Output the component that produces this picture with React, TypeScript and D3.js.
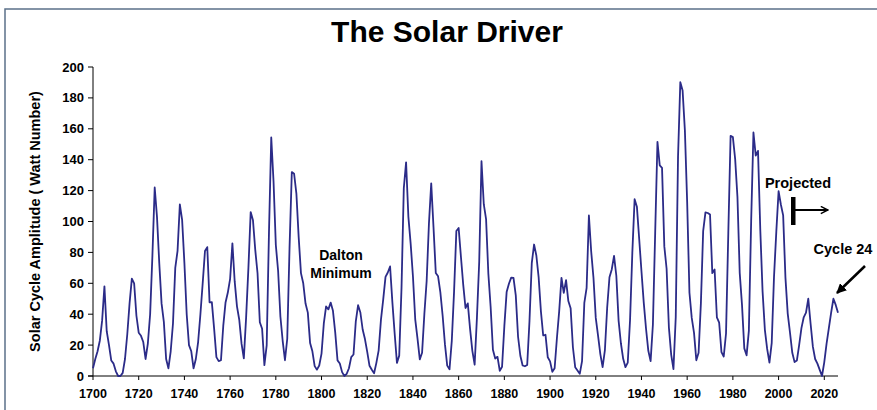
import React from 'react';
import * as d3 from 'd3';

// yearly solar cycle amplitude, starting 1700
const firstYear = 1700;
const amplitude = [
  5, 11, 16, 23, 36, 58, 29, 20, 10, 8,
  3, 0, 0, 2, 11, 27, 47, 63, 60, 39,
  28, 26, 22, 11, 21, 40, 78, 122, 103, 73,
  47, 35, 11, 5, 16, 34, 70, 81, 111, 101,
  73, 40, 20, 16, 5, 11, 22, 40, 60, 80.9,
  83.4, 47.7, 47.8, 30.7, 12.2, 9.6, 10.2, 32.4, 47.6, 54.0,
  62.9, 85.9, 61.2, 45.1, 36.4, 20.9, 11.4, 37.8, 69.8, 106.1,
  100.8, 81.6, 66.5, 34.8, 30.6, 7.0, 19.8, 92.5, 154.4, 125.9,
  84.8, 68.1, 38.5, 22.8, 10.2, 24.1, 82.9, 132.0, 130.9, 118.1,
  89.9, 66.6, 60.0, 46.9, 41.0, 21.3, 16.0, 6.4, 4.1, 6.8,
  14.5, 34.0, 45.0, 43.1, 47.5, 42.2, 28.1, 10.1, 8.1, 2.5,
  0.0, 1.4, 5.0, 12.2, 13.9, 35.4, 45.8, 41.1, 30.1, 23.9,
  15.6, 6.6, 4.0, 1.8, 8.5, 16.6, 36.3, 49.6, 64.2, 67.0,
  70.9, 47.8, 27.5, 8.5, 13.2, 56.9, 121.5, 138.3, 103.2, 85.7,
  64.6, 36.7, 24.2, 10.7, 15.0, 40.1, 61.5, 98.5, 124.7, 96.3,
  66.6, 64.5, 54.1, 39.0, 20.6, 6.7, 4.3, 22.7, 54.8, 93.8,
  95.8, 77.2, 59.1, 44.0, 47.0, 30.5, 16.3, 7.3, 37.6, 74.0,
  139.0, 111.2, 101.6, 66.2, 44.7, 17.0, 11.3, 12.4, 3.4, 6.0,
  32.3, 54.3, 59.7, 63.7, 63.5, 52.2, 25.4, 13.1, 6.8, 6.3,
  7.1, 35.6, 73.0, 85.1, 78.0, 64.0, 41.8, 26.2, 26.7, 12.1,
  9.5, 2.7, 5.0, 24.4, 42.0, 63.5, 53.8, 62.0, 48.5, 43.9,
  18.6, 5.7, 3.6, 1.4, 9.6, 47.4, 57.1, 103.9, 80.6, 63.6,
  37.6, 26.1, 14.2, 5.8, 16.7, 44.3, 63.9, 69.0, 77.8, 64.9,
  35.7, 21.2, 11.1, 5.7, 8.7, 36.1, 79.7, 114.4, 109.6, 88.8,
  67.8, 47.5, 30.6, 16.3, 9.6, 33.2, 92.6, 151.6, 136.3, 134.7,
  83.9, 69.4, 31.5, 13.9, 4.4, 38.0, 141.7, 190.2, 184.8, 159.0,
  112.3, 53.9, 37.6, 27.9, 10.2, 15.1, 47.0, 93.8, 105.9, 105.5,
  104.5, 66.6, 68.9, 38.0, 34.5, 15.5, 12.6, 27.5, 92.5, 155.4,
  154.6, 140.4, 115.9, 66.6, 45.9, 17.9, 13.4, 29.4, 100.2, 157.6,
  142.6, 145.7, 94.3, 54.6, 29.9, 17.5, 8.6, 21.5, 64.3, 93.3,
  119.6, 111.0, 104.0, 63.7, 40.4, 28, 15, 9, 10, 20,
  31, 38, 41, 50, 34, 19, 11, 8, 4, 0,
  9, 21, 31, 41, 50, 46, 41,
];

const yTicks = [0, 20, 40, 60, 80, 100, 120, 140, 160, 180, 200];
const xTicks = [1700, 1720, 1740, 1760, 1780, 1800, 1820, 1840, 1860, 1880, 1900, 1920, 1940, 1960, 1980, 2000, 2020];

const font = 'Liberation Sans, Arial, sans-serif';

export default function App() {
  const lastYear = firstYear + amplitude.length - 1;
  const x = d3.scaleLinear().domain([firstYear, lastYear]).range([93, 838]);
  const y = d3.scaleLinear().domain([0, 200]).range([376, 67]);

  const line = d3.line<number>()
    .x((_, i) => x(firstYear + i))
    .y(d => y(d));

  return (
    <svg width={877} height={410} style={{ position: 'absolute', left: 0, top: 0, background: '#fff' }}>
      <defs>
        <marker id="head" viewBox="0 0 10 10" refX="9" refY="5" markerWidth="4" markerHeight="4" orient="auto">
          <path d="M0,0 L10,5 L0,10 z" fill="#000" />
        </marker>
        <marker id="open" viewBox="0 0 10 10" refX="9" refY="5" markerWidth="5" markerHeight="5" orient="auto">
          <path d="M1,1 L9,5 L1,9" fill="none" stroke="#000" strokeWidth="1.6" />
        </marker>
      </defs>

      {/* outer frame */}
      <path d="M5,412 L5,9 L880,9" fill="none" stroke="#5b7089" strokeWidth={1.5} />

      <text x={447} y={42} textAnchor="middle" fontFamily={font} fontWeight="bold" fontSize={30}>The Solar Driver</text>

      {/* y axis */}
      <line x1={93} x2={93} y1={y(200)} y2={y(0)} stroke="#000" strokeWidth={1} />
      {yTicks.map(t => (
        <g key={t}>
          <line x1={88} x2={93} y1={y(t)} y2={y(t)} stroke="#000" />
          <text x={84} y={y(t) + 4.5} textAnchor="end" fontFamily={font} fontWeight="bold" fontSize={13}>{t}</text>
        </g>
      ))}
      <text transform={`translate(40,${(y(0) + y(200)) / 2}) rotate(-90)`} textAnchor="middle"
        fontFamily={font} fontWeight="bold" fontSize={14.5}>Solar Cycle Amplitude ( Watt Number)</text>

      {/* x axis */}
      <line x1={88} x2={838} y1={y(0)} y2={y(0)} stroke="#000" strokeWidth={1} />
      {xTicks.map(t => (
        <g key={t}>
          <line x1={x(t)} x2={x(t)} y1={y(0)} y2={y(0) + 4} stroke="#000" />
          <text x={x(t)} y={398} textAnchor="middle" fontFamily={font} fontWeight="bold" fontSize={12.5}>{t}</text>
        </g>
      ))}

      <path d={line(amplitude) ?? ''} fill="none" stroke="#2b2b88" strokeWidth={1.8} strokeLinejoin="round" />

      {/* annotations */}
      <text x={341} y={260} textAnchor="middle" fontFamily={font} fontWeight="bold" fontSize={14}>Dalton</text>
      <text x={341} y={278} textAnchor="middle" fontFamily={font} fontWeight="bold" fontSize={14}>Minimum</text>

      <text x={798} y={188} textAnchor="middle" fontFamily={font} fontWeight="bold" fontSize={14.5}>Projected</text>
      <rect x={791} y={197} width={4.5} height={28} fill="#000" />
      <line x1={795} x2={828} y1={210} y2={210} stroke="#000" strokeWidth={1.8} markerEnd="url(#open)" />

      <text x={843} y={254} textAnchor="middle" fontFamily={font} fontWeight="bold" fontSize={14.5}>Cycle 24</text>
      <line x1={865} y1={266} x2={837} y2={293} stroke="#000" strokeWidth={2.5} markerEnd="url(#head)" />
    </svg>
  );
}
